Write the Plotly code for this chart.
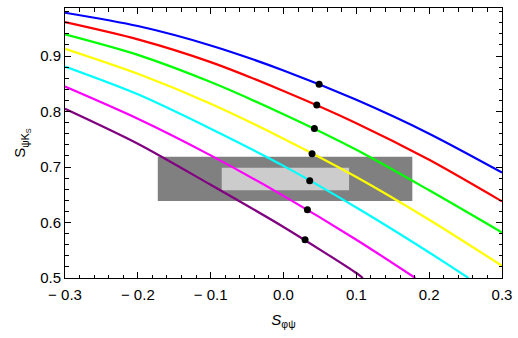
import plotly.graph_objects as go

# Curves
blue_x = [-0.3, -0.2, -0.1, 0.0, 0.1, 0.2, 0.3]
blue_y = [0.978, 0.954, 0.919, 0.874, 0.821, 0.760, 0.690]
red_x = [-0.3, -0.2, -0.1, 0.0, 0.1, 0.2, 0.3]
red_y = [0.961, 0.930, 0.889, 0.837, 0.779, 0.713, 0.638]
green_x = [-0.3, -0.2, -0.1, 0.0, 0.1, 0.2, 0.3]
green_y = [0.939, 0.902, 0.853, 0.795, 0.731, 0.658, 0.582]
yellow_x = [-0.3, -0.2, -0.1, 0.0, 0.1, 0.2, 0.3]
yellow_y = [0.913, 0.868, 0.814, 0.751, 0.682, 0.605, 0.522]
cyan_x = [-0.3, -0.2, -0.1, 0.0, 0.1, 0.2, 0.254]
cyan_y = [0.881, 0.831, 0.769, 0.702, 0.627, 0.546, 0.5]
magenta_x = [-0.3, -0.2, -0.1, 0.0, 0.1, 0.181]
magenta_y = [0.845, 0.787, 0.721, 0.648, 0.569, 0.5]
purple_x = [-0.3, -0.2, -0.1, 0.0, 0.1, 0.109]
purple_y = [0.805, 0.742, 0.668, 0.592, 0.509, 0.5]

dots_x = [0.0489, 0.0457, 0.0424, 0.0392, 0.036, 0.0328, 0.0296]
dots_y = [0.849, 0.8115, 0.7694, 0.7239, 0.6754, 0.6232, 0.5687]

# Experimental bands
outer_x = [-0.1726, 0.1769]
outer_y = [0.6388, 0.7185]
inner_x = [-0.0848, 0.090]
inner_y = [0.658, 0.6987]

x_tickvals = [-0.3, -0.2, -0.1, 0.0, 0.1, 0.2, 0.3]
x_ticktext = ["\u2212 0.3", "\u2212 0.2", "\u2212 0.1", "0.0", "0.1", "0.2", "0.3"]
y_tickvals = [0.5, 0.6, 0.7, 0.8, 0.9]
y_ticktext = ["0.5", "0.6", "0.7", "0.8", "0.9"]

series = [
    (blue_x, blue_y, "#0000ff"),
    (red_x, red_y, "#ff0000"),
    (green_x, green_y, "#00ff00"),
    (yellow_x, yellow_y, "#ffff00"),
    (cyan_x, cyan_y, "#00ffff"),
    (magenta_x, magenta_y, "#ff00ff"),
    (purple_x, purple_y, "#800080"),
]

fig = go.Figure()
for xs, ys, c in series:
    fig.add_trace(go.Scatter(x=xs, y=ys, mode="lines",
                             line=dict(color=c, width=2.2, shape="spline", smoothing=0.8),
                             showlegend=False, hoverinfo="skip"))
fig.add_trace(go.Scatter(x=dots_x, y=dots_y, mode="markers",
                         marker=dict(color="black", size=7), showlegend=False,
                         hoverinfo="skip"))

fig.add_shape(type="rect", xref="x", yref="y", x0=outer_x[0], x1=outer_x[1],
              y0=outer_y[0], y1=outer_y[1], fillcolor="#808080",
              line=dict(width=0), layer="below")
fig.add_shape(type="rect", xref="x", yref="y", x0=inner_x[0], x1=inner_x[1],
              y0=inner_y[0], y1=inner_y[1], fillcolor="#cccccc",
              line=dict(width=0), layer="below")

font = dict(family="Liberation Sans, Arial, sans-serif", size=15, color="black")

common = dict(showgrid=False, zeroline=False, showline=True, linecolor="black",
              linewidth=1, mirror="allticks", ticks="inside", ticklen=6,
              tickcolor="black", automargin=False,
              minor=dict(ticks="inside", ticklen=3.5, dtick=0.02,
                         tickcolor="black", showgrid=False))

fig.update_layout(
    width=518, height=338,
    margin=dict(l=64.5, r=16.3, t=8, b=59.5),
    paper_bgcolor="white", plot_bgcolor="white",
    font=font,
    xaxis=dict(range=[-0.3, 0.3], tickvals=x_tickvals, ticktext=x_ticktext,
               ticklabelstandoff=3,
               title=dict(text="<i>S</i><sub>\u03c6\u03c8</sub>", standoff=12,
                          font=dict(size=15)), **common),
    yaxis=dict(range=[0.5, 0.9865], tickvals=y_tickvals, ticktext=y_ticktext,
               title=dict(text="S<sub>\u03c8K<sub>S</sub></sub>", standoff=10,
                          font=dict(size=15)), **common),
)

fig.write_html("out.html", config={"displayModeBar": False},
               post_script="document.body.style.margin='0';document.body.style.overflow='hidden';")
